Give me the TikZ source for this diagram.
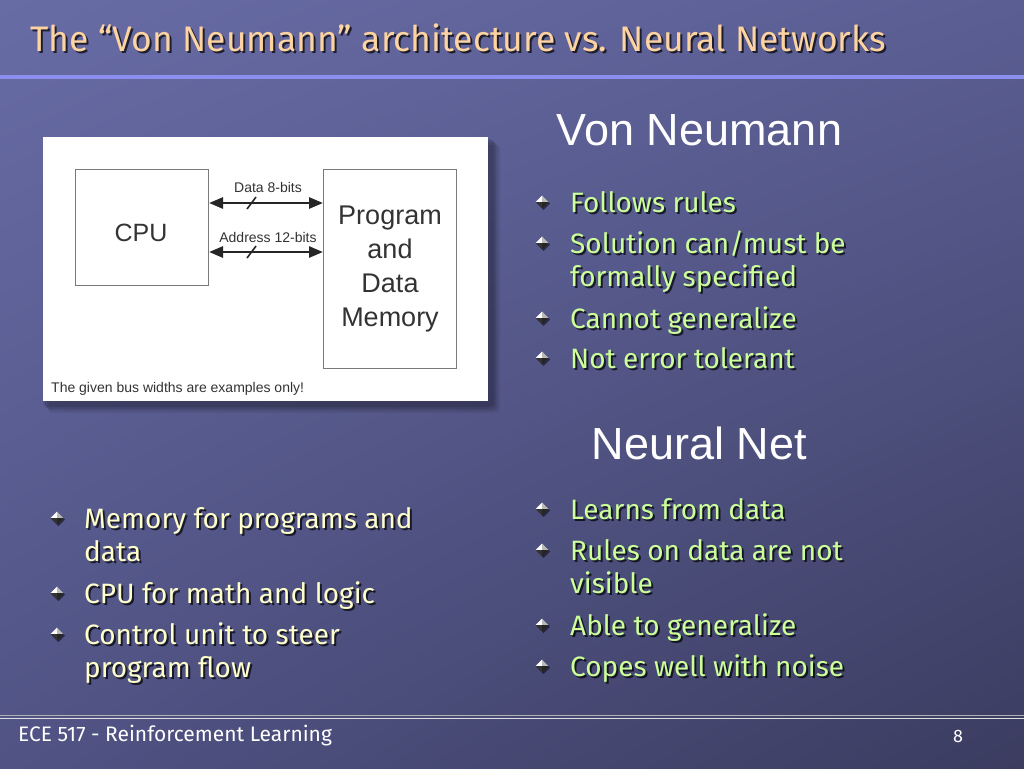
\documentclass[tikz,border=0pt]{standalone}
\usepackage{fontspec}
\setmainfont{Fira Sans}
\newfontfamily\arialf{Liberation Sans}
\usetikzlibrary{calc,arrows.meta,shadings}
\definecolor{titlec}{HTML}{FCD3A1}
\definecolor{greenc}{HTML}{CCFF99}
\definecolor{yellc}{HTML}{FFFFCC}
\definecolor{bgtl}{HTML}{686CA5}
\definecolor{bgtr}{HTML}{5B5E93}
\definecolor{bgbl}{HTML}{505384}
\definecolor{bgbr}{HTML}{3B3C60}
\definecolor{rulec}{HTML}{8C8FEE}
\definecolor{boxc}{HTML}{7A7A7A}
\definecolor{diagtext}{HTML}{333333}
\newcommand\shnode[4]{%
  \node[#3, text=black, opacity=0.7] (#1s) at ($(#2)+(2,2)$) {#4};
  \node[#3] (#1) at (#2) {#4};}
\tikzset{
  bul/.pic={
    \fill[black, opacity=0.5] (1.5,-5)--(8,1.5)--(1.5,8)--(-5,1.5)--cycle;
    \fill[white] (0,-6.5)--(-6.5,0)--(0,0)--cycle;
    \fill[gray!55] (0,-6.5)--(6.5,0)--(0,0)--cycle;
    \fill[gray!40!black] (-6.5,0)--(0,6.5)--(0,0)--cycle;
    \fill[black!85] (6.5,0)--(0,6.5)--(0,0)--cycle;
  },
  itemg/.style={anchor=base west, align=left, inner sep=0pt, text=greenc,
    font=\fontsize{28}{33}\selectfont},
  itemy/.style={anchor=base west, align=left, inner sep=0pt, text=yellc,
    font=\fontsize{28}{33}\selectfont},
  heading/.style={inner sep=0pt, text=white, font=\arialf\fontsize{45}{50}\selectfont},
  dbox/.style={draw=boxc, line width=1pt, fill=white, anchor=north west, inner sep=0pt},
  dtext/.style={inner sep=0pt, text=diagtext, font=\arialf\fontsize{14}{16}\selectfont},
  bus/.style={line width=2.6pt, draw=black!85, {Triangle[length=14pt,width=11pt]}-{Triangle[length=14pt,width=11pt]}},
}
\begin{document}
\begin{tikzpicture}[x=1pt,y=-1pt]
\useasboundingbox (0,0) rectangle (1024,768);
% background
\shade[upper left=bgtl, upper right=bgtr, lower left=bgbl, lower right=bgbr] (0,0) rectangle (1024,768);
% title
\shnode{title}{30,52}{anchor=base west, inner sep=0pt, text=titlec, font=\fontsize{35.5}{38}\selectfont}{The “Von Neumann” architecture vs. Neural Networks}
\fill[rulec] (0,75) rectangle (1024,79);
% footer
\draw[line width=1pt, gray!60] (0,715) -- (1024,715);
\draw[line width=1pt, white!75!gray] (0,718) -- (1024,718);
\node[anchor=west, inner sep=0pt, text=white, font=\fontsize{21}{24}\selectfont] (foot) at (18,736) {ECE 517 - Reinforcement Learning};
\node[anchor=west, inner sep=0pt, text=white, font=\fontsize{18}{20}\selectfont] (pnum) at (953,736) {8};
% diagram panel with shadow
\foreach \o/\a in {12/0.06,10/0.08,8/0.1,6/0.12} {
  \fill[black, opacity=\a, rounded corners=4pt] (43+\o-6,137+\o-4) rectangle (488+\o,401+\o);
}
\node[fill=white, anchor=north west, inner sep=0pt, minimum width=445pt, minimum height=264pt] (panel) at (43,137) {};
\node[dbox, minimum width=133pt, minimum height=116pt] (cpu) at (75,169) {};
\node[inner sep=0pt, text=diagtext, font=\arialf\fontsize{25}{28}\selectfont] (cputext) at (141,233) {CPU};
\node[dbox, minimum width=133pt, minimum height=199pt, align=center, text=diagtext,
  font=\arialf\fontsize{27}{34}\selectfont] (mem) at (323,169) {Program\\and\\Data\\Memory};
\draw[bus] ($(cpu.north east)+(0,34)$) -- ($(mem.north west)+(0,34)$);
\draw[bus] ($(cpu.north east)+(0,83)$) -- ($(mem.north west)+(0,83)$);
\draw[line width=1.6pt, black!85] (247,209) -- (256,197);
\draw[line width=1.6pt, black!85] (247,258) -- (256,246);
\node[dtext] (lbl1) at (268,187) {Data 8-bits};
\node[dtext] (lbl2) at (268,237) {Address 12-bits};
\node[dtext, anchor=west] (note) at (51,389) {The given bus widths are examples only!};
% headings
\node[heading] (vn) at (699.5,130) {Von Neumann};
\node[heading] (nn) at (699.5,443) {Neural Net};
% Von Neumann bullets
\pic at (542,202) {bul};
\shnode{v1}{570,212}{itemg}{Follows rules}
\pic at (542,243) {bul};
\shnode{v2}{570,286}{itemg}{Solution can/must be\\formally specified}
\pic at (542,318) {bul};
\shnode{v3}{570,328}{itemg}{Cannot generalize}
\pic at (542,358) {bul};
\shnode{v4}{570,368}{itemg}{Not error tolerant}
% Neural bullets
\pic at (542,509) {bul};
\shnode{n1}{570,519}{itemg}{Learns from data}
\pic at (542,550) {bul};
\shnode{n2}{570,593}{itemg}{Rules on data are not\\visible}
\pic at (542,625) {bul};
\shnode{n3}{570,635}{itemg}{Able to generalize}
\pic at (542,666) {bul};
\shnode{n4}{570,676}{itemg}{Copes well with noise}
% left bullets
\pic at (57,518) {bul};
\shnode{l1}{84,561}{itemy}{Memory for programs and\\data}
\pic at (57,593) {bul};
\shnode{l2}{84,603}{itemy}{CPU for math and logic}
\pic at (57,634) {bul};
\shnode{l3}{84,677}{itemy}{Control unit to steer\\program flow}
\end{tikzpicture}
\end{document}
